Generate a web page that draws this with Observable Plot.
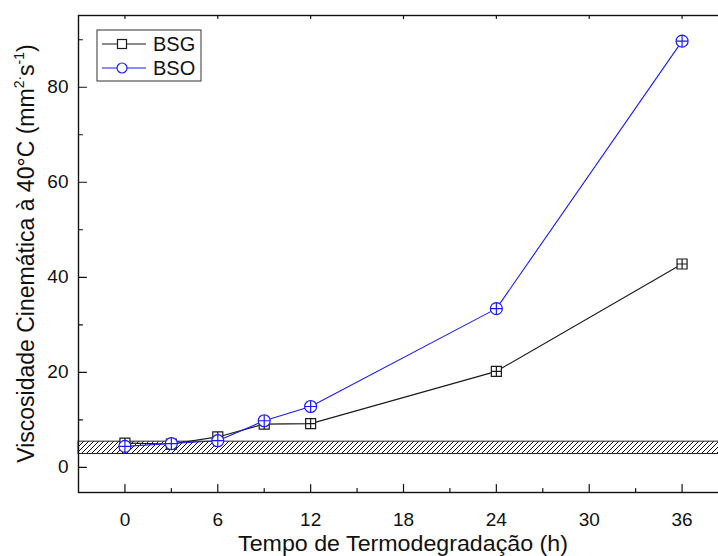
<!DOCTYPE html>
<html><head><meta charset="utf-8">
<script src="https://cdn.jsdelivr.net/npm/d3@7"></script>
<script src="https://cdn.jsdelivr.net/npm/@observablehq/plot@0.6"></script>
<style>
html,body{margin:0;padding:0;background:#fff;overflow:hidden}
#wrap{width:718px;height:556px;overflow:hidden;position:relative}
#wrap svg{max-width:none !important;}
</style></head><body><div id="wrap"></div>
<script>
const hours = [0, 3, 6, 9, 12, 24, 36];
const bsg = [5.1, 4.9, 6.4, 9.1, 9.2, 20.2, 42.8];
const bso = [4.4, 5.0, 5.6, 9.8, 12.8, 33.4, 89.7];
const seriesNames = ["BSG", "BSO"];
const seriesColors = ["#1a1a1a", "#1a1aff"];
const specLimits = [2.8, 5.4];
const xTicks = [0, 6, 12, 18, 24, 30, 36];
const xMinor = [3, 9, 15, 21, 27, 33];
const yTicks = [0, 20, 40, 60, 80];
const yMinor = [10, 30, 50, 70, 90];
const xDomain = [-3, 39];
const yDomain = [-5.3, 95.1];
const xTitle = "Tempo de Termodegradação (h)";

const rows = hours.flatMap((h, i) => [
  {h, v: bsg[i], s: seriesNames[0]},
  {h, v: bso[i], s: seriesNames[1]}
]);

const squarePlus = {draw(ctx, size) {
  const r = Math.sqrt(size / Math.PI);
  ctx.moveTo(-r, -r); ctx.lineTo(r, -r); ctx.lineTo(r, r); ctx.lineTo(-r, r); ctx.closePath();
  ctx.moveTo(-r, 0); ctx.lineTo(r, 0); ctx.moveTo(0, -r); ctx.lineTo(0, r);
}};
const circlePlus = {draw(ctx, size) {
  const r = Math.sqrt(size / Math.PI);
  ctx.moveTo(r, 0); ctx.arc(0, 0, r, 0, 2 * Math.PI);
  ctx.moveTo(-r, 0); ctx.lineTo(r, 0); ctx.moveTo(0, -r); ctx.lineTo(0, r);
}};
const tickShape = {draw(ctx, l) { ctx.moveTo(0, 0); ctx.lineTo(0, -l); }};

const tickV = (data, opts) => Plot.vector(data, {anchor: "start", shape: tickShape, stroke: "#111", strokeWidth: 1.2, ...opts});

const plot = Plot.plot({
  width: 728, height: 556,
  marginLeft: 78, marginRight: 0, marginTop: 15, marginBottom: 64,
  style: {fontFamily: "Arial, 'Liberation Sans', sans-serif", color: "#111", background: "white", maxWidth: "none"},
  x: {domain: xDomain},
  y: {domain: yDomain},
  color: {domain: seriesNames, range: seriesColors},
  marks: [
    Plot.rect([specLimits], {y1: d => d[0], y2: d => d[1], fill: "url(#hatch)", stroke: "#222", strokeWidth: 1}),
    Plot.line(rows, {x: "h", y: "v", z: "s", stroke: "s", strokeWidth: 1.1}),
    Plot.dot(rows.filter(d => d.s === "BSG"), {x: "h", y: "v", r: 5, symbol: squarePlus, stroke: "s", fill: "white", strokeWidth: 1.2}),
    Plot.dot(rows.filter(d => d.s === "BSO"), {x: "h", y: "v", r: 6, symbol: circlePlus, stroke: "s", fill: "white", strokeWidth: 1.2}),
    tickV(xTicks, {x: d => d, frameAnchor: "bottom", length: 8, rotate: 0}),
    tickV(xMinor, {x: d => d, frameAnchor: "bottom", length: 4, rotate: 0}),
    tickV(xTicks, {x: d => d, frameAnchor: "top", length: 3, rotate: 180}),
    tickV(yTicks, {y: d => d, frameAnchor: "left", length: 8, rotate: 90}),
    tickV(yMinor, {y: d => d, frameAnchor: "left", length: 4, rotate: 90}),
    Plot.frame({stroke: "#111", strokeWidth: 1.4}),
    Plot.axisX({ticks: xTicks, tickSize: 0, tickPadding: 20, fontSize: 19, label: null}),
    Plot.axisY({ticks: yTicks, tickSize: 0, tickPadding: 10, fontSize: 19, label: null})
  ]
});
plot.style.maxWidth = "none";

const svg = d3.select(plot);
const defs = svg.insert("defs", ":first-child");
const pat = defs.append("pattern").attr("id", "hatch").attr("patternUnits", "userSpaceOnUse").attr("width", 5).attr("height", 5);
pat.append("rect").attr("width", 5).attr("height", 5).attr("fill", "white");
pat.append("path").attr("d", "M-1,1 l2,-2 M0,5 l5,-5 M4,6 l2,-2").attr("stroke", "#111").attr("stroke-width", 1);

const xs = plot.scale("x"), ys = plot.scale("y");
const cx = (xs.range[0] + xs.range[1]) / 2;
const cy = (ys.range[0] + ys.range[1]) / 2;

svg.append("text").attr("transform", `translate(${cx},551) scale(1.08,1)`).attr("text-anchor", "middle")
  .attr("font-size", 21.5).attr("fill", "#111").text(xTitle);

const yt = svg.append("text").attr("transform", `translate(34,${cy}) rotate(-90)`)
  .attr("text-anchor", "middle").attr("font-size", 23).attr("fill", "#111");
yt.append("tspan").text("Viscosidade Cinemática à 40°C (mm");
yt.append("tspan").attr("font-size", 14).attr("dy", -10).text("2");
yt.append("tspan").attr("font-size", 14).text("·");
yt.append("tspan").attr("dy", 10).text("s");
yt.append("tspan").attr("font-size", 14).attr("dy", -10).text("-1");
yt.append("tspan").attr("dy", 10).text(")");

// legend
const lg = svg.append("g");
lg.append("rect").attr("x", 97).attr("y", 30).attr("width", 104).attr("height", 51)
  .attr("fill", "white").attr("stroke", "#333").attr("stroke-width", 1);
const legRows = [
  {name: seriesNames[0], color: seriesColors[0], y: 44, sym: "square"},
  {name: seriesNames[1], color: seriesColors[1], y: 68, sym: "circle"}
];
legRows.forEach(d => {
  lg.append("line").attr("x1", 102).attr("x2", 146).attr("y1", d.y).attr("y2", d.y)
    .attr("stroke", d.color).attr("stroke-width", 1.1);
  if (d.sym === "square") {
    lg.append("rect").attr("x", 117.5).attr("y", d.y - 4.5).attr("width", 9).attr("height", 9)
      .attr("fill", "white").attr("stroke", d.color).attr("stroke-width", 1.2);
  } else {
    lg.append("circle").attr("cx", 122).attr("cy", d.y).attr("r", 5)
      .attr("fill", "white").attr("stroke", d.color).attr("stroke-width", 1.2);
  }
  lg.append("text").attr("x", 153).attr("y", d.y + 7).attr("text-anchor", "start")
    .attr("font-size", 20).attr("fill", "#111").text(d.name);
});

document.getElementById("wrap").appendChild(plot);
</script></body></html>
